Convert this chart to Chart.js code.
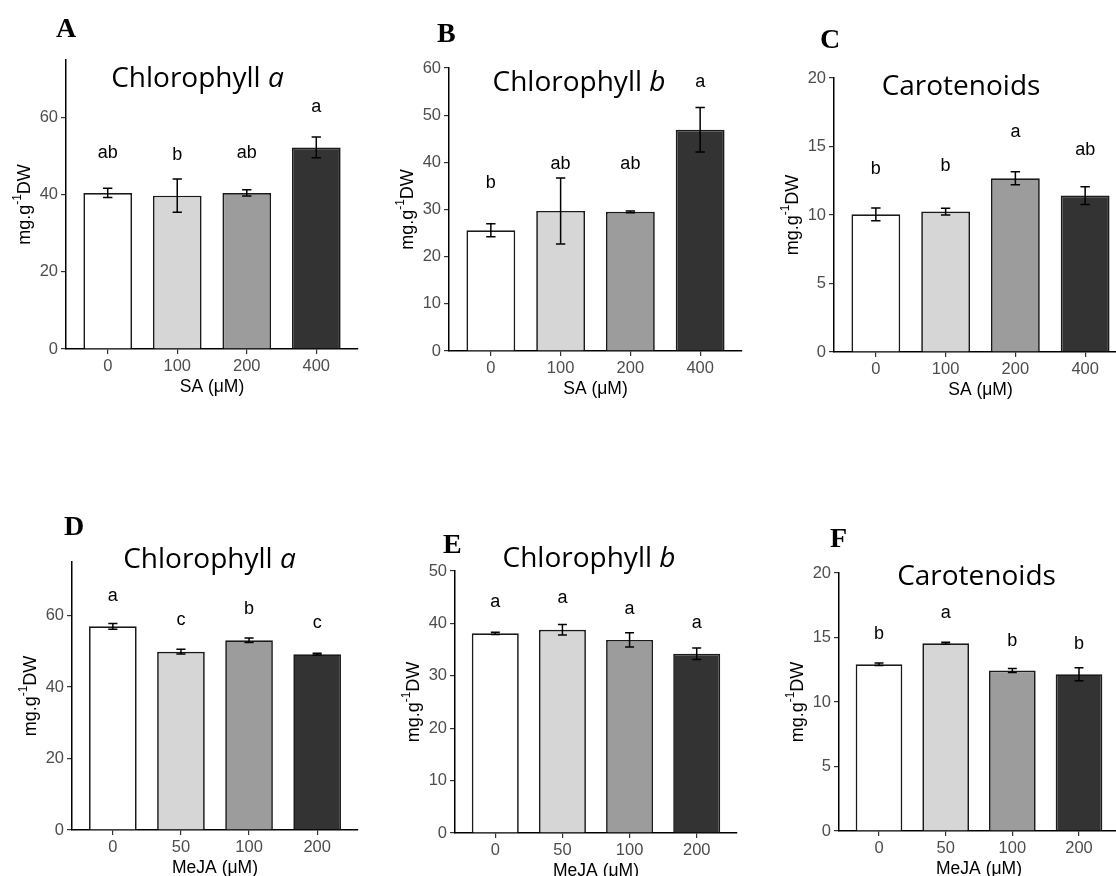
<!DOCTYPE html>
<html>
<head>
<meta charset="utf-8">
<script src="https://cdn.jsdelivr.net/npm/chart.js@4.4.1/dist/chart.umd.min.js"></script>
<style>
  body { margin: 0; background: #fff; width: 1116px; height: 876px; overflow: hidden; position: relative; }
  canvas { position: absolute; }
</style>
</head>
<body>
<canvas id="pA"></canvas>
<canvas id="pB"></canvas>
<canvas id="pC"></canvas>
<canvas id="pD"></canvas>
<canvas id="pE"></canvas>
<canvas id="pF"></canvas>
<script>
// doses
const saDoses = ['0', '100', '200', '400'];
const mejaDoses = ['0', '50', '100', '200'];

// SA treatment
const chlA_SA = [40.5, 39.8, 40.5, 52.3];
const chlA_SA_err = [1.2, 4.3, 0.8, 2.7];
const chlA_SA_letters = ['ab', 'b', 'ab', 'a'];
const chlA_SA_letterY = [49.6, 49.1, 49.6, 61.4];

const chlB_SA = [25.6, 29.7, 29.5, 46.9];
const chlB_SA_err = [1.4, 7.0, 0.2, 4.7];
const chlB_SA_letters = ['b', 'ab', 'ab', 'a'];
const chlB_SA_letterY = [34.5, 38.6, 38.6, 56.0];

const car_SA = [10.05, 10.25, 12.68, 11.42];
const car_SA_err = [0.47, 0.25, 0.47, 0.65];
const car_SA_letters = ['b', 'b', 'a', 'ab'];
const car_SA_letterY = [13.0, 13.2, 15.7, 14.35];

// MeJA treatment
const chlA_MeJA = [57.0, 49.9, 53.1, 49.2];
const chlA_MeJA_err = [0.8, 0.65, 0.65, 0.25];
const chlA_MeJA_letters = ['a', 'c', 'b', 'c'];
const chlA_MeJA_letterY = [64.2, 57.3, 60.5, 56.4];

const chlB_MeJA = [38.1, 38.8, 36.85, 34.2];
const chlB_MeJA_err = [0.2, 1.0, 1.35, 1.1];
const chlB_MeJA_letters = ['a', 'a', 'a', 'a'];
const chlB_MeJA_letterY = [43.1, 43.8, 41.8, 39.1];

const car_MeJA = [12.92, 14.55, 12.44, 12.15];
const car_MeJA_err = [0.1, 0.08, 0.15, 0.5];
const car_MeJA_letters = ['b', 'a', 'b', 'b'];
const car_MeJA_letterY = [14.86, 16.54, 14.37, 14.14];

// y ticks
const yTicks75 = [0, 20, 40, 60];
const yTicks60 = [0, 10, 20, 30, 40, 50, 60];
const yTicks50 = [0, 10, 20, 30, 40, 50];
const yTicks20 = [0, 5, 10, 15, 20];

const barColors = ['#ffffff', '#d6d6d6', '#9c9c9c', '#333333'];

const SANS = '"Liberation Sans", Arial, sans-serif';

const panels = [
  { id: 'pA', tag: 'A', title: ['Chlorophyll ', 'a'], xTitle: 'SA (\u03bcM)', labels: saDoses,
    values: chlA_SA, err: chlA_SA_err, letters: chlA_SA_letters, letterY: chlA_SA_letterY,
    ymax: 75, ticks: yTicks75,
    box: { left: 4, top: 0, w: 358, h: 399 }, tagPos: [-10, -23], titlePos: [131.5, 27.3] },
  { id: 'pB', tag: 'B', title: ['Chlorophyll ', 'b'], xTitle: 'SA (\u03bcM)', labels: saDoses,
    values: chlB_SA, err: chlB_SA_err, letters: chlB_SA_letters, letterY: chlB_SA_letterY,
    ymax: 60, ticks: yTicks60,
    box: { left: 387, top: 8, w: 359, h: 393 }, tagPos: [-12, -26], titlePos: [130, 23] },
  { id: 'pC', tag: 'C', title: ['Carotenoids', ''], xTitle: 'SA (\u03bcM)', labels: saDoses,
    values: car_SA, err: car_SA_err, letters: car_SA_letters, letterY: car_SA_letterY,
    ymax: 20, ticks: yTicks20,
    box: { left: 772, top: 18, w: 359, h: 384 }, tagPos: [-14, -30], titlePos: [127, 16.7] },
  { id: 'pD', tag: 'D', title: ['Chlorophyll ', 'a'], xTitle: 'MeJA (\u03bcM)', labels: mejaDoses,
    values: chlA_MeJA, err: chlA_MeJA_err, letters: chlA_MeJA_letters, letterY: chlA_MeJA_letterY,
    ymax: 75, ticks: yTicks75,
    box: { left: 10, top: 502, w: 352, h: 378 }, tagPos: [-8, -27], titlePos: [137.5, 5.6] },
  { id: 'pE', tag: 'E', title: ['Chlorophyll ', 'b'], xTitle: 'MeJA (\u03bcM)', labels: mejaDoses,
    values: chlB_MeJA, err: chlB_MeJA_err, letters: chlB_MeJA_letters, letterY: chlB_MeJA_letterY,
    ymax: 50, ticks: yTicks50,
    box: { left: 393, top: 511, w: 348, h: 372 }, tagPos: [-12, -18], titlePos: [134, -4.3] },
  { id: 'pF', tag: 'F', title: ['Carotenoids', ''], xTitle: 'MeJA (\u03bcM)', labels: mejaDoses,
    values: car_MeJA, err: car_MeJA_err, letters: car_MeJA_letters, letterY: car_MeJA_letterY,
    ymax: 20, ticks: yTicks20,
    box: { left: 777, top: 513, w: 346, h: 368 }, tagPos: [-9, -26], titlePos: [137.5, 12.3] }
];

// error bars, letters, titles, panel tags, y title
const annot = {
  id: 'annot',
  afterDatasetsDraw(chart, args, o) {
    const p = o.panel;
    const { ctx, chartArea: a, scales: { x, y } } = chart;
    ctx.save();
    const cap = x.getPixelForValue(1.067) - x.getPixelForValue(1);
    ctx.strokeStyle = '#000';
    ctx.lineWidth = 1.5;
    p.values.forEach((v, i) => {
      const px = x.getPixelForValue(i + 1);
      const hi = y.getPixelForValue(v + p.err[i]);
      const lo = y.getPixelForValue(v - p.err[i]);
      ctx.beginPath();
      ctx.moveTo(px, hi); ctx.lineTo(px, lo);
      ctx.moveTo(px - cap, hi); ctx.lineTo(px + cap, hi);
      ctx.moveTo(px - cap, lo); ctx.lineTo(px + cap, lo);
      ctx.stroke();
    });
    ctx.fillStyle = '#000';
    ctx.font = '18px ' + SANS;
    ctx.textAlign = 'center';
    ctx.textBaseline = 'alphabetic';
    p.letters.forEach((t, i) => {
      ctx.fillText(t, x.getPixelForValue(i + 1), y.getPixelForValue(p.letterY[i]));
    });

    // panel tag
    ctx.textAlign = 'left';
    ctx.font = 'bold 28px "Liberation Serif", "Times New Roman", serif';
    ctx.fillText(p.tag, a.left + p.tagPos[0], a.top + p.tagPos[1]);

    // title
    const fUp = '28px "Open Sans", sans-serif';
    const fIt = 'italic 28px "Open Sans", sans-serif';
    ctx.font = fUp;
    const w1 = ctx.measureText(p.title[0]).width;
    ctx.font = fIt;
    const w2 = ctx.measureText(p.title[1]).width;
    const tx = a.left + p.titlePos[0] - (w1 + w2) / 2;
    const ty = a.top + p.titlePos[1];
    ctx.font = fUp;
    ctx.fillText(p.title[0], tx, ty);
    ctx.font = fIt;
    ctx.fillText(p.title[1], tx + w1, ty);

    // y axis title: mg.g-1DW
    ctx.translate(a.left - 40.5, (a.top + a.bottom) / 2);
    ctx.rotate(-Math.PI / 2);
    ctx.textBaseline = 'middle';
    const big = '18px ' + SANS, small = '12px ' + SANS;
    ctx.font = big; const s1 = ctx.measureText('mg.g').width;
    ctx.font = small; const s2 = ctx.measureText('-1').width;
    ctx.font = big; const s3 = ctx.measureText('DW').width;
    let cx = -(s1 + s2 + s3) / 2;
    ctx.font = big; ctx.fillText('mg.g', cx, 0); cx += s1;
    ctx.font = small; ctx.fillText('-1', cx, -7.5); cx += s2;
    ctx.font = big; ctx.fillText('DW', cx, 0);
    ctx.restore();
  }
};

function makePanel(p) {
  const el = document.getElementById(p.id);
  el.width = p.box.w;
  el.height = p.box.h;
  el.style.left = p.box.left + 'px';
  el.style.top = p.box.top + 'px';
  return new Chart(el.getContext('2d'), {
    type: 'bar',
    data: {
      datasets: [{
        data: p.values.map((v, i) => ({ x: i + 1, y: v })),
        backgroundColor: barColors,
        borderColor: '#1a1a1a',
        borderWidth: 1.7,
        categoryPercentage: 1,
        barPercentage: 0.7
      }]
    },
    options: {
      responsive: false,
      animation: false,
      devicePixelRatio: 1,
      layout: { padding: { top: 60, right: 4, left: 0, bottom: 0 } },
      plugins: { legend: { display: false }, tooltip: { enabled: false }, annot: { panel: p } },
      scales: {
        x: {
          type: 'linear',
          min: 0.4, max: 4.6,
          offset: false,
          afterBuildTicks: (s) => { s.ticks = p.labels.map((_, i) => ({ value: i + 1 })); },
          afterFit: (s) => { s.height = 50; },
          ticks: {
            color: '#4d4d4d', font: { size: 16.5, family: SANS }, padding: 3,
            autoSkip: false, maxRotation: 0,
            callback: (v) => p.labels[v - 1]
          },
          grid: { display: true, drawOnChartArea: false, drawTicks: true, tickLength: 5, color: '#333', lineWidth: 1.2, offset: false },
          border: { display: true, color: '#000', width: 1.5 },
          title: { display: true, text: p.xTitle, color: '#000', font: { size: 17.5, family: SANS }, padding: { top: 0, bottom: 1 } }
        },
        y: {
          min: 0, max: p.ymax,
          afterBuildTicks: (s) => { s.ticks = p.ticks.map(v => ({ value: v })); },
          afterFit: (s) => { s.width = 62; },
          ticks: { color: '#4d4d4d', font: { size: 16.5, family: SANS }, padding: 3 },
          grid: { display: true, drawOnChartArea: false, drawTicks: true, tickLength: 5, color: '#333', lineWidth: 1.2 },
          border: { display: true, color: '#000', width: 1.5 }
        }
      }
    },
    plugins: [annot]
  });
}

panels.forEach(makePanel);
</script>
</body>
</html>
